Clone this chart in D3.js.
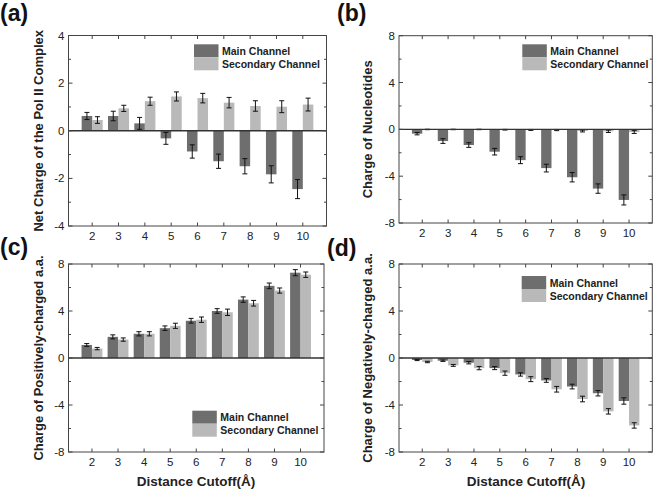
<!DOCTYPE html>
<html><head><meta charset="utf-8">
<script src="https://cdn.jsdelivr.net/npm/d3@7"></script>
<style>body{margin:0;background:#fff}svg{display:block}text{font-family:Arial,"Liberation Sans",sans-serif}</style>
</head><body>
<svg id="c" width="655" height="489"></svg>
<script>
const categories = [2,3,4,5,6,7,8,9,10];
const seriesNames = ["Main Channel","Secondary Channel"];

// (a) Net charge of the Pol II complex
const netMain    = [0.62,0.62,0.31,-0.32,-0.87,-1.28,-1.49,-1.83,-2.45];
const netMainErr = [0.15,0.20,0.25,0.25,0.28,0.30,0.32,0.36,0.40];
const netSec     = [0.45,0.94,1.24,1.44,1.37,1.18,1.04,1.01,1.10];
const netSecErr  = [0.14,0.13,0.17,0.19,0.20,0.22,0.22,0.25,0.27];
// (b) Charge of nucleotides
const nucMain    = [-0.37,-1.00,-1.34,-1.91,-2.63,-3.31,-4.09,-5.06,-6.03];
const nucMainErr = [0.10,0.20,0.20,0.28,0.30,0.33,0.40,0.40,0.43];
const nucSec     = [-0.01,-0.01,-0.01,-0.03,-0.05,-0.06,-0.14,-0.17,-0.23];
const nucSecErr  = [0.02,0.02,0.02,0.03,0.04,0.05,0.08,0.10,0.12];
// (c) Charge of positively-charged a.a.
const posMain    = [1.11,1.80,2.06,2.54,3.17,4.00,4.97,6.14,7.26];
const posMainErr = [0.12,0.17,0.18,0.19,0.20,0.20,0.23,0.24,0.26];
const posSec     = [0.80,1.57,2.06,2.74,3.26,3.89,4.66,5.74,7.09];
const posSecErr  = [0.10,0.14,0.18,0.22,0.23,0.27,0.24,0.22,0.23];
// (d) Charge of negatively-charged a.a.
const negMain    = [-0.17,-0.23,-0.40,-0.86,-1.40,-1.91,-2.43,-3.00,-3.66];
const negMainErr = [0.05,0.06,0.10,0.13,0.14,0.16,0.20,0.23,0.27];
const negSec     = [-0.34,-0.63,-0.86,-1.29,-1.80,-2.66,-3.49,-4.54,-5.74];
const negSecErr  = [0.06,0.08,0.14,0.18,0.21,0.24,0.24,0.23,0.23];

const yTicksA = [-4,-2,0,2,4];
const yTicksB = [-8,-4,0,4,8];

const panels = [
  {label:"(a)", title:"Net Charge of the Pol II Complex", m:netMain, me:netMainErr, s:netSec, se:netSecErr,
   dom:[-4,4], ticks:yTicksA, minor:1, box:[68.5,326.5,35.5,226], leg:[194,44.3], lab:[0,21], tx:43, xt:null},
  {label:"(b)", title:"Charge of Nucleotides", m:nucMain, me:nucMainErr, s:nucSec, se:nucSecErr,
   dom:[-8,8], ticks:yTicksB, minor:2, box:[399,652.3,35.7,223], leg:[522.3,44.3], lab:[337,21], tx:372, xt:null},
  {label:"(c)", title:"Charge of Positively-charged a.a.", m:posMain, me:posMainErr, s:posSec, se:posSecErr,
   dom:[-8,8], ticks:yTicksB, minor:2, box:[68.5,324,264,452], leg:[192.3,410.7], lab:[0,255], tx:43, xt:196},
  {label:"(d)", title:"Charge of Negatively-charged a.a.", m:negMain, me:negMainErr, s:negSec, se:negSecErr,
   dom:[-8,8], ticks:yTicksB, minor:2, box:[399,652.3,264,452], leg:[521.7,276], lab:[327,256], tx:372, xt:526},
];

const colMain = "#6e6e6e", colSec = "#b9b9b9", frameCol = "#444", textCol = "#222";
const svg = d3.select("#c");

panels.forEach(p => {
  const [x0,x1,y0,y1] = p.box;
  const x = d3.scaleLinear().domain([1.1,10.9]).range([x0,x1]);
  const y = d3.scaleLinear().domain(p.dom).range([y1,y0]);
  const g = svg.append("g");
  const bw = 0.4;

  // bars
  [[p.m,colMain,-bw],[p.s,colSec,0]].forEach(([vals,col,off]) => {
    g.selectAll(null).data(categories).enter().append("rect")
      .attr("x", c => x(c+off)).attr("width", c => x(c+off+bw)-x(c+off))
      .attr("y", (c,i) => Math.min(y(vals[i]),y(0)))
      .attr("height", (c,i) => Math.abs(y(vals[i])-y(0)))
      .attr("fill", col);
  });
  // error bars
  [[p.m,p.me,-bw/2],[p.s,p.se,bw/2]].forEach(([vals,errs,off]) => {
    categories.forEach((c,i) => {
      const cx = x(c+off), ya = y(vals[i]-errs[i]), yb = y(vals[i]+errs[i]);
      g.append("line").attr("x1",cx).attr("x2",cx).attr("y1",ya).attr("y2",yb).attr("stroke","#111").attr("stroke-width",1);
      [ya,yb].forEach(yy => g.append("line").attr("x1",cx-2.5).attr("x2",cx+2.5).attr("y1",yy).attr("y2",yy).attr("stroke","#111").attr("stroke-width",1));
    });
  });
  // zero line
  g.append("line").attr("x1",x0).attr("x2",x1).attr("y1",y(0)).attr("y2",y(0)).attr("stroke","#333").attr("stroke-width",1.3);

  // frame
  g.append("rect").attr("x",x0).attr("y",y0).attr("width",x1-x0).attr("height",y1-y0)
    .attr("fill","none").attr("stroke",frameCol).attr("stroke-width",1);

  // y ticks (inward, both sides)
  const minorTicks = d3.range(p.dom[0], p.dom[1]+0.001, p.minor);
  minorTicks.forEach(t => {
    const major = p.ticks.includes(t);
    const len = major ? 4 : 2.5;
    g.append("line").attr("x1",x0).attr("x2",x0+len).attr("y1",y(t)).attr("y2",y(t)).attr("stroke",frameCol);
    g.append("line").attr("x1",x1).attr("x2",x1-len).attr("y1",y(t)).attr("y2",y(t)).attr("stroke",frameCol);
  });
  p.ticks.forEach(t => {
    g.append("text").attr("x",x0-4).attr("y",y(t)+4).attr("text-anchor","end")
      .attr("font-size",11.5).attr("fill",textCol).text(t);
  });
  // x ticks (inward, top and bottom)
  categories.forEach(c => {
    g.append("line").attr("x1",x(c)).attr("x2",x(c)).attr("y1",y1).attr("y2",y1-3.5).attr("stroke",frameCol);
    g.append("line").attr("x1",x(c)).attr("x2",x(c)).attr("y1",y0).attr("y2",y0+3.5).attr("stroke",frameCol);
    g.append("text").attr("x",x(c)).attr("y",y1+13.5).attr("text-anchor","middle")
      .attr("font-size",11.5).attr("fill",textCol).text(c);
  });

  // y title
  g.append("text").attr("transform",`translate(${p.tx},${(y0+y1)/2}) rotate(-90)`)
    .attr("text-anchor","middle").attr("font-size",13).attr("font-weight","bold").attr("fill",textCol)
    .text(p.title);
  // x title
  if (p.xt !== null) {
    g.append("text").attr("x",p.xt).attr("y",486).attr("text-anchor","middle")
      .attr("font-size",13.5).attr("font-weight","bold").attr("fill",textCol)
      .text("Distance Cutoff(Å)");
  }
  // panel label
  g.append("text").attr("x",p.lab[0]).attr("y",p.lab[1]).attr("font-size",23).attr("font-weight","bold")
    .attr("fill","#111").text(p.label);

  // legend
  const [lx,ly] = p.leg;
  [colMain,colSec].forEach((col,i) => {
    g.append("rect").attr("x",lx).attr("y",ly+i*13).attr("width",24.5).attr("height",13).attr("fill",col);
    g.append("text").attr("x",lx+28).attr("y",ly+i*13+10.5).attr("font-size",10.5).attr("font-weight","bold")
      .attr("fill",textCol).text(seriesNames[i]);
  });
});
</script>
</body></html>
